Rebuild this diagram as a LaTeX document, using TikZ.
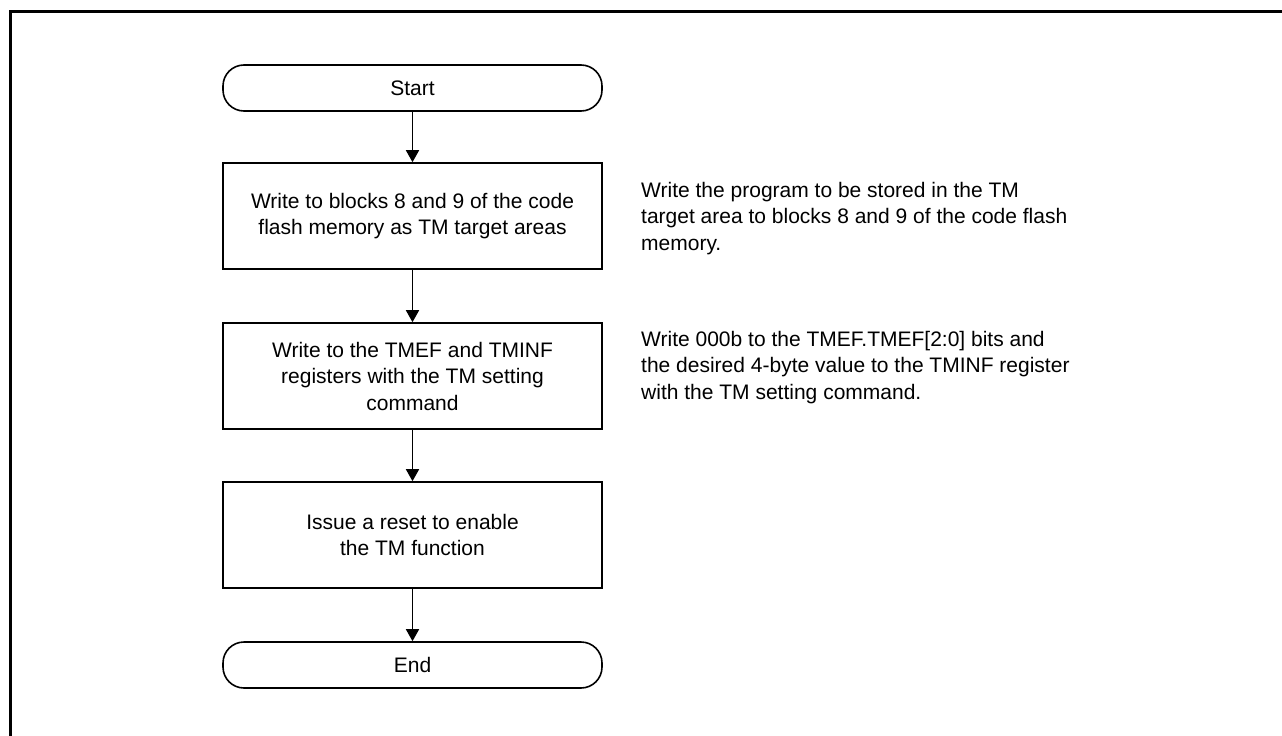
\documentclass[tikz,border=0pt]{standalone}
\usepackage{fontspec}
\setmainfont{Liberation Sans}
\usetikzlibrary{arrows.meta}
\begin{document}
\begin{tikzpicture}[x=1pt,y=-1pt,
  every node/.style={font=\fontsize{21}{26.5}\selectfont, inner sep=0pt},
  term/.style={draw, line width=1.6pt, rounded corners=21pt, minimum width=379pt, minimum height=46pt, align=center},
  proc/.style={draw, line width=1.6pt, minimum width=379pt, minimum height=106pt, align=center},
  note/.style={anchor=west, align=left},
  flow/.style={line width=1.6pt, -{Triangle[width=13pt,length=12pt]}}
]
\useasboundingbox (0,0) rectangle (1282,736);
\draw[line width=3pt] (10.5,737) -- (10.5,11.3) -- (1283,11.3);

\node[term] (start) at (412.5,88) {Start};
\node[proc] (b1) at (412.5,216) {Write to blocks 8 and 9 of the code\\flash memory as TM target areas};
\node[proc] (b2) at (412.5,376) {Write to the TMEF and TMINF\\registers with the TM setting\\command};
\node[proc] (b3) at (412.5,535) {Issue a reset to enable\\the TM function};
\node[term] (end) at (412.5,665) {End};

\node[note] (n1) at (641,218.5) {Write the program to be stored in the TM\\target area to blocks 8 and 9 of the code flash\\memory.};
\node[note] (n2) at (641,367.5) {Write 000b to the TMEF.TMEF[2:0] bits and\\the desired 4-byte value to the TMINF register\\with the TM setting command.};

\draw[flow] (start) -- (b1);
\draw[flow] (b1) -- (b2);
\draw[flow] (b2) -- (b3);
\draw[flow] (b3) -- (end);
\end{tikzpicture}
\end{document}
